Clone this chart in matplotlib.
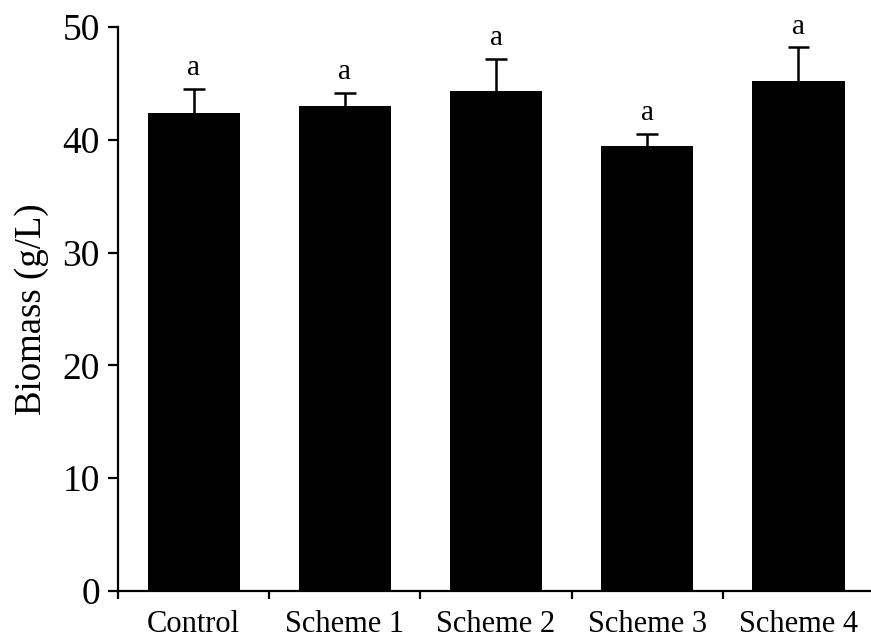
import numpy as np
import matplotlib.pyplot as plt

# biomass per treatment, mean and upper error
groups = ["Control", "Scheme 1", "Scheme 2", "Scheme 3", "Scheme 4"]
biomass = [42.4, 43.0, 44.3, 39.5, 45.2]
err = [2.1, 1.2, 2.9, 1.0, 3.0]
letters = ["a", "a", "a", "a", "a"]

plt.rcParams['font.family'] = ['Liberation Serif', 'DejaVu Serif']

fig = plt.figure(figsize=(8.71, 6.4), dpi=100)
ax = fig.add_axes([0.1355, 0.0766, 0.8645, 0.881])

x = np.arange(len(groups))
tops = np.array(biomass) + np.array(err)
ax.bar(x, biomass, width=0.61, color='black', zorder=2)
# upper error bars only
ax.vlines(x, biomass, tops, color='black', linewidth=1.8, zorder=1)
ax.hlines(tops, x - 0.072, x + 0.072, color='black', linewidth=1.8, zorder=1)

for xi, t, lab in zip(x, tops, letters):
    ax.text(xi, t + 0.7, lab, ha='center', va='bottom', fontsize=21)

ax.set_xlim(-0.5, 4.48)
ax.set_ylim(0, 50)
ax.set_yticks([0, 10, 20, 30, 40, 50])
ax.set_xticks(np.arange(-0.5, 4.0, 1.0))
ax.set_xticklabels([])
ax.set_xticks(x, minor=True)
ax.set_xticklabels(groups, minor=True, fontsize=22)
ax.tick_params(axis='x', which='minor', length=0, pad=14)
ax.tick_params(axis='x', which='major', direction='out', length=6, width=1.6)
ax.tick_params(axis='y', direction='out', length=7, width=1.6, labelsize=27, pad=6)

for side in ['top', 'right']:
    ax.spines[side].set_visible(False)
for side in ['left', 'bottom']:
    ax.spines[side].set_linewidth(1.6)

ax.set_ylabel("Biomass (g/L)", fontsize=26.5, labelpad=10)

fig.savefig("out.png", dpi=100)
